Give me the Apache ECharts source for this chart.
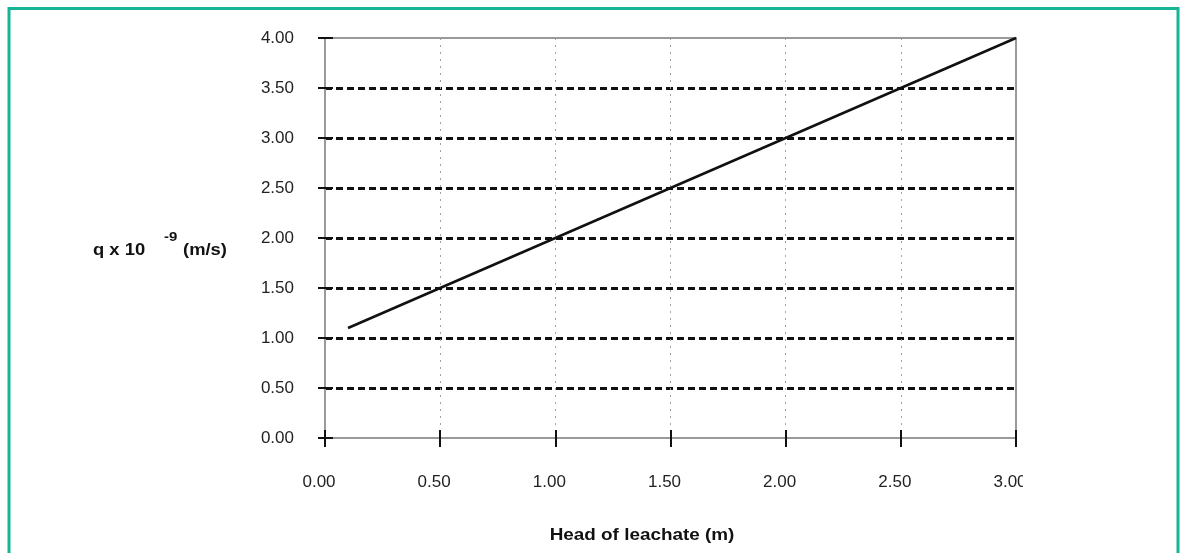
<!DOCTYPE html>
<html>
<head>
<meta charset="utf-8">
<script src="https://cdn.jsdelivr.net/npm/echarts@6/dist/echarts.min.js"></script>
<style>
html,body{margin:0;padding:0;background:#fff;}
#main{width:1180px;height:553px;}
</style>
</head>
<body>
<div id="main"></div>
<script>
// Data
const headOfLeachate = [0.1, 3.0];          // m
const flowRate = [1.1, 4.0];                // q x 10^-9 (m/s)
const xTicks = { min: 0, max: 3, interval: 0.5 };
const yTicks = { min: 0, max: 4, interval: 0.5 };
const xTitle = 'Head of leachate (m)';
const yTitleParts = ['q x 10', '-9', '(m/s)'];

const FONT = '"Liberation Sans", Arial, sans-serif';
const chart = echarts.init(document.getElementById('main'), null, { renderer: 'canvas' });

const grid = { left: 325, right: 164, top: 38, bottom: 115, containLabel: false };
const fmt = v => v.toFixed(2);

const baseX = {
  type: 'value', min: xTicks.min, max: xTicks.max, interval: xTicks.interval,
  axisLabel: { show: false }, axisTick: { show: false }, axisLine: { show: false }, splitLine: { show: false }
};
const baseY = {
  type: 'value', min: yTicks.min, max: yTicks.max, interval: yTicks.interval,
  axisLabel: { show: false }, axisTick: { show: false }, axisLine: { show: false }, splitLine: { show: false }
};

chart.setOption({
  animation: false,
  backgroundColor: '#fff',
  grid: grid,
  xAxis: [
    Object.assign({}, baseX, {
      position: 'bottom',
      axisLine: { show: true, onZero: false, lineStyle: { color: '#9a9a9a', width: 2 } },
      axisTick: { show: true, inside: false, length: 9, lineStyle: { color: '#111', width: 2 } },
      axisLabel: { show: true, margin: 36, formatter: fmt, color: '#222', fontFamily: FONT, fontSize: 17, padding: [0, 12, 0, 0] },
      splitLine: { show: true, showMinLine: false, showMaxLine: false, lineStyle: { color: '#a0a0a0', width: 1, type: [2, 5] } }
    }),
    Object.assign({}, baseX, {
      position: 'bottom',
      axisTick: { show: true, inside: true, length: 8, lineStyle: { color: '#111', width: 2 } }
    }),
    Object.assign({}, baseX, {
      position: 'top',
      axisLine: { show: true, onZero: false, lineStyle: { color: '#9a9a9a', width: 2 } }
    })
  ],
  yAxis: [
    Object.assign({}, baseY, {
      position: 'left',
      axisLine: { show: true, onZero: false, lineStyle: { color: '#9a9a9a', width: 2 } },
      axisTick: { show: true, inside: false, length: 7, lineStyle: { color: '#111', width: 2 } },
      axisLabel: { show: true, margin: 31, formatter: fmt, color: '#222', fontFamily: FONT, fontSize: 17 },
      splitLine: { show: true, showMinLine: false, showMaxLine: false, lineStyle: { color: '#111', width: 3, type: [7, 4] } }
    }),
    Object.assign({}, baseY, {
      position: 'left',
      axisTick: { show: true, inside: true, length: 8, lineStyle: { color: '#111', width: 2 } }
    }),
    Object.assign({}, baseY, {
      position: 'right',
      axisLine: { show: true, onZero: false, lineStyle: { color: '#9a9a9a', width: 2 } }
    })
  ],
  series: [{
    type: 'line',
    xAxisIndex: 0, yAxisIndex: 0,
    data: headOfLeachate.map((x, i) => [x, flowRate[i]]),
    showSymbol: false, symbol: 'none',
    lineStyle: { color: '#111', width: 2.5 },
    z: 5
  }],
  graphic: [
    // clip of the last x label as in the reference
    { type: 'rect', shape: { x: 1023, y: 468, width: 16, height: 30 }, style: { fill: '#fff' }, z: 50 },
    { type: 'rect', shape: { x: 9, y: 8.5, width: 1169, height: 560 },
      style: { fill: 'none', stroke: '#19b494', lineWidth: 3 }, z: 100 },
    { type: 'text', x: 642, y: 536, scaleX: 1.18, originX: 0, originY: 0,
      style: { text: xTitle, font: 'bold 16px ' + FONT, fill: '#111', align: 'center', verticalAlign: 'middle' } },
    { type: 'text', x: 93, y: 251, scaleX: 1.15, originX: 0, originY: 0,
      style: { text: yTitleParts[0], font: 'bold 16px ' + FONT, fill: '#111', align: 'left', verticalAlign: 'middle' } },
    { type: 'text', x: 164, y: 237, scaleX: 1.15, originX: 0, originY: 0,
      style: { text: yTitleParts[1], font: 'bold 13px ' + FONT, fill: '#111', align: 'left', verticalAlign: 'middle' } },
    { type: 'text', x: 183, y: 251, scaleX: 1.15, originX: 0, originY: 0,
      style: { text: yTitleParts[2], font: 'bold 16px ' + FONT, fill: '#111', align: 'left', verticalAlign: 'middle' } }
  ]
});
</script>
</body>
</html>
